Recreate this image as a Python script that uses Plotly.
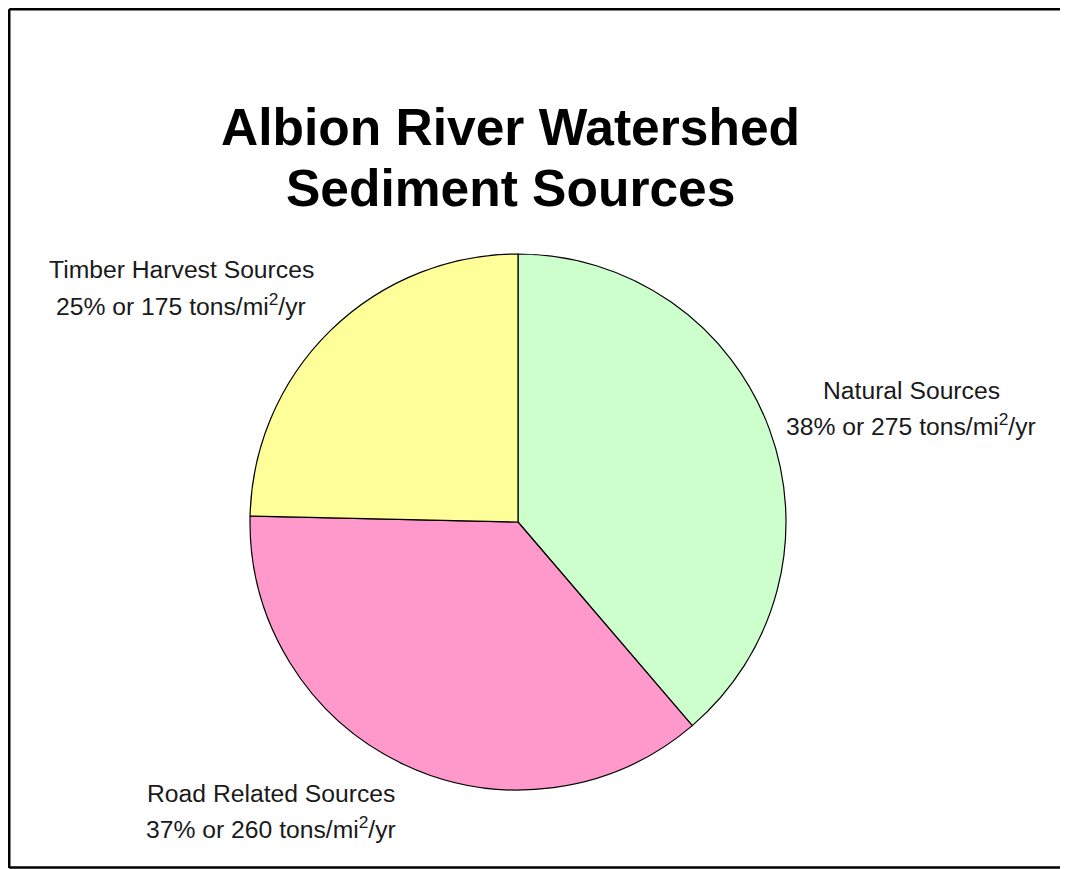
import plotly.graph_objects as go

W, H = 1068, 869
OFF = 8  # page body margin offset

categories = ["Natural Sources", "Road Related Sources", "Timber Harvest Sources"]
tons = [275, 260, 175]
percent_labels = ["38%", "37%", "25%"]
colors = ["#CCFFCC", "#FF99CC", "#FFFF99"]

title_lines = ["Albion River Watershed", "Sediment Sources"]

def px(x):
    return (x - OFF) / W

def py(y):
    return 1 - (y - OFF) / H

fig = go.Figure()
fig.add_trace(go.Pie(
    labels=categories,
    values=tons,
    sort=False,
    direction="clockwise",
    rotation=0,
    marker=dict(colors=colors, line=dict(color="black", width=1.2)),
    textinfo="none",
    hoverinfo="label+value",
    showlegend=False,
    domain=dict(x=[px(246), px(790)], y=[py(790), py(254)]),
))

annotations = []
for txt, y in zip(title_lines, [127, 188]):
    annotations.append(dict(
        text=f"<b>{txt}</b>", x=px(510), y=py(y), xref="paper", yref="paper",
        xanchor="center", yanchor="middle", showarrow=False,
        font=dict(family="Liberation Sans, Arial", size=51.5, color="black"),
    ))

label_pos = {
    "Natural Sources": (911, 390, 428),
    "Road Related Sources": (271, 793, 830),
    "Timber Harvest Sources": (181, 270, 307),
}
for cat, t, pct in zip(categories, tons, percent_labels):
    x, y1, y2 = label_pos[cat]
    annotations.append(dict(
        text=cat, x=px(x), y=py(y1), xref="paper", yref="paper",
        xanchor="center", yanchor="middle", showarrow=False,
        font=dict(family="Liberation Sans, Arial", size=24.7, color="#1a1a1a"),
    ))
    annotations.append(dict(
        text=f"{pct} or {t} tons/mi<sup>2</sup>/yr", x=px(x), y=py(y2 - 3), xref="paper", yref="paper",
        xanchor="center", yanchor="middle", showarrow=False,
        font=dict(family="Liberation Sans, Arial", size=24.7, color="#1a1a1a"),
    ))

edge = OFF + 1.25
shapes = [
    dict(type="line", xref="paper", yref="paper", x0=px(edge), x1=px(1076), y0=py(edge), y1=py(edge),
         line=dict(color="black", width=2.5)),
    dict(type="line", xref="paper", yref="paper", x0=px(edge), x1=px(edge), y0=py(edge), y1=py(868),
         line=dict(color="black", width=2.5)),
    dict(type="line", xref="paper", yref="paper", x0=px(edge), x1=px(1076), y0=py(867.5), y1=py(867.5),
         line=dict(color="black", width=2.5)),
]

fig.update_layout(
    width=W, height=H,
    margin=dict(l=0, r=0, t=0, b=0),
    paper_bgcolor="white", plot_bgcolor="white",
    annotations=annotations,
    shapes=shapes,
)

fig.write_html("out.html")
